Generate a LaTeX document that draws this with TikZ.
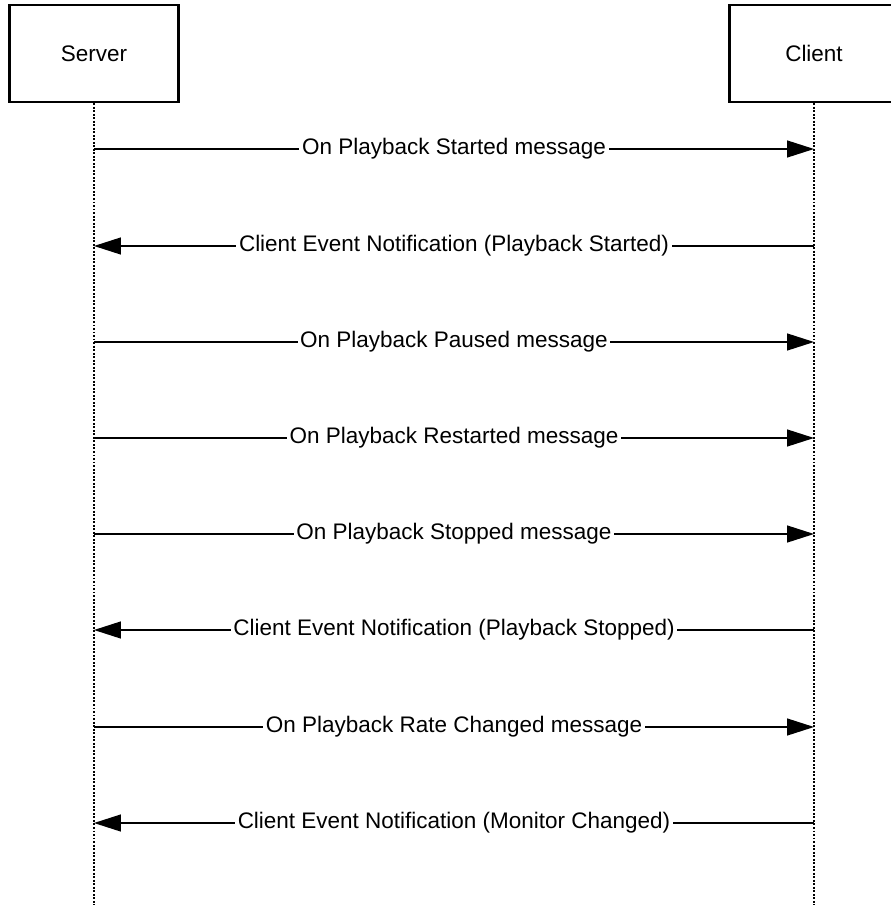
\documentclass[tikz,border=0pt]{standalone}
\usepackage{fontspec}
\setmainfont{Liberation Sans}
\usetikzlibrary{arrows.meta}

\begin{document}
\begin{tikzpicture}[x=0.02cm,y=-0.02cm,
    actor/.style={draw,line width=1.3pt,minimum width=3.38cm,minimum height=1.94cm,
      font=\fontsize{12.8}{15}\selectfont},
    lifeline/.style={line width=0.8pt,dash pattern=on 1.1pt off 0.9pt},
    msg/.style={-{Triangle[length=0.54cm,width=0.34cm]},line width=0.8pt},
    lbl/.style={fill=white,inner xsep=1.5pt,inner ysep=1pt,font=\fontsize{12.8}{15}\selectfont}]
  \useasboundingbox (0,0) rectangle (890,905);
  % actors
  \node[actor] (server) at (94,53.5) {Server};
  \node[actor] (client) at (814,53.5) {Client};
  \coordinate (serverEnd) at (94,905);
  \coordinate (clientEnd) at (814,905);
  \draw[lifeline] (server) -- (serverEnd);
  \draw[lifeline] (client) -- (clientEnd);
  % points on the lifelines
  \coordinate (s1) at (94,149);  \coordinate (c1) at (814,149);
  \coordinate (s2) at (94,246);  \coordinate (c2) at (814,246);
  \coordinate (s3) at (94,342);  \coordinate (c3) at (814,342);
  \coordinate (s4) at (94,438);  \coordinate (c4) at (814,438);
  \coordinate (s5) at (94,534);  \coordinate (c5) at (814,534);
  \coordinate (s6) at (94,630);  \coordinate (c6) at (814,630);
  \coordinate (s7) at (94,727);  \coordinate (c7) at (814,727);
  \coordinate (s8) at (94,823);  \coordinate (c8) at (814,823);
  % messages
  \draw[msg] (s1) -- node[lbl] {On Playback Started message} (c1);
  \draw[msg] (c2) -- node[lbl] {Client Event Notification (Playback Started)} (s2);
  \draw[msg] (s3) -- node[lbl] {On Playback Paused message} (c3);
  \draw[msg] (s4) -- node[lbl] {On Playback Restarted message} (c4);
  \draw[msg] (s5) -- node[lbl] {On Playback Stopped message} (c5);
  \draw[msg] (c6) -- node[lbl] {Client Event Notification (Playback Stopped)} (s6);
  \draw[msg] (s7) -- node[lbl] {On Playback Rate Changed message} (c7);
  \draw[msg] (c8) -- node[lbl] {Client Event Notification (Monitor Changed)} (s8);
\end{tikzpicture}
\end{document}
